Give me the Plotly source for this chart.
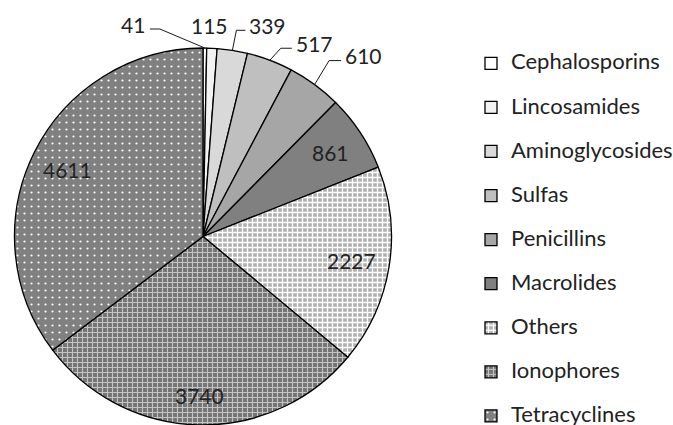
import math
import plotly.graph_objects as go

categories = ["Cephalosporins", "Lincosamides", "Aminoglycosides", "Sulfas",
              "Penicillins", "Macrolides", "Others", "Ionophores", "Tetracyclines"]
values = [41, 115, 339, 517, 610, 861, 2227, 3740, 4611]

# ---------- styles ----------
W, H = 673, 425
base_colors = ["#ffffff", "#f2f2f2", "#d9d9d9", "#bfbfbf", "#a6a6a6",
               "#808080", "#b0b0b0", "#747474", "#808080"]
pattern_shapes = ["", "", "", "", "", "", "+", "+", "."]
pattern_fg = ["#ffffff"] * 6 + ["#ffffff", "#c4c4c4", "#ffffff"]
pattern_size = [6, 6, 6, 6, 6, 6, 5, 5, 7]
pattern_solid = [0.3] * 6 + [0.45, 0.4, 0.08]

# label placement styles (one per slice)
#   inside labels: fraction of radius along the slice's mid angle
#   outside labels: elbow offset (px) from the slice edge, stub length (px), draw leader?
label_mode = ["out", "out", "out", "out", "out", "in", "in", "in", "in"]
inside_frac = [0, 0, 0, 0, 0, 0.81, 0.80, 0.845, 0.80]
elbow_dx = [-45, -2.5, 4, 11, 14.5, 0, 0, 0, 0]
elbow_dy = [-19, -20, -20, -12, -24, 0, 0, 0, 0]
stub_len = [-10, 0, 9, 11, 12, 0, 0, 0, 0]
draw_leader = [True, False, True, True, True, False, False, False, False]

FONT = "Lato"
LEG_TXT = 22
NUM_TXT = 21
TXT_COLOR = "#222222"

dom_x = [13 / W, 393 / W]
dom_y = [0, 377 / H]

legend_labels = [f" <br><span style='font-size:{LEG_TXT}px'>{c}</span>" for c in categories]

fig = go.Figure(go.Pie(
    labels=legend_labels,
    values=values,
    textinfo="none",
    hoverinfo="skip",
    sort=False,
    direction="clockwise",
    rotation=0,
    marker=dict(
        colors=base_colors,
        line=dict(color="#000000", width=1.3),
        pattern=dict(shape=pattern_shapes, fgcolor=pattern_fg, bgcolor=base_colors,
                     fillmode="replace",
                     size=pattern_size, solidity=pattern_solid),
    ),
    domain=dict(x=dom_x, y=dom_y),
))

# ---------- data labels derived from the values ----------
box_w = (dom_x[1] - dom_x[0]) * W
box_h = (dom_y[1] - dom_y[0]) * H
R = min(box_w, box_h) / 2
cx = (dom_x[0] + dom_x[1]) / 2 * W
cy = H - (dom_y[0] + dom_y[1]) / 2 * H


def to_paper(x, y):
    return x / W, 1 - y / H


total = sum(values)
cum = 0
shapes = []
annotations = []
for i, v in enumerate(values):
    mid = math.radians((cum + v / 2) / total * 360)
    cum += v
    sx, sy = math.sin(mid), -math.cos(mid)
    if label_mode[i] == "in":
        tx, ty = cx + inside_frac[i] * R * sx, cy + inside_frac[i] * R * sy
        px, py = to_paper(tx, ty)
        annotations.append(dict(x=px, y=py, xref="paper", yref="paper", text=str(v),
                                showarrow=False, xanchor="center", yanchor="middle",
                                font=dict(family=FONT, size=NUM_TXT, color=TXT_COLOR)))
    else:
        ex, ey = cx + R * sx, cy + R * sy
        bx, by = ex + elbow_dx[i], ey + elbow_dy[i]
        tx = bx + stub_len[i]
        if draw_leader[i]:
            p = [to_paper(ex, ey), to_paper(bx, by), to_paper(tx, by)]
            path = "M {} {} L {} {} L {} {}".format(p[0][0], p[0][1], p[1][0], p[1][1],
                                                 p[2][0], p[2][1])
            shapes.append(dict(type="path", xref="paper", yref="paper", path=path,
                               line=dict(color="#1a1a1a", width=1)))
            if stub_len[i] < 0:
                anchor, ax = "right", tx - 3
            else:
                anchor, ax = "left", tx + 2
            ay = by - 5
        else:
            anchor, ax, ay = "center", bx, by - 3
        px, py = to_paper(ax, ay)
        annotations.append(dict(x=px, y=py, xref="paper", yref="paper", text=str(v),
                                showarrow=False, xanchor=anchor, yanchor="middle",
                                font=dict(family=FONT, size=NUM_TXT, color=TXT_COLOR)))

fig.update_layout(
    width=W, height=H,
    margin=dict(l=0, r=0, t=0, b=0, autoexpand=False),
    paper_bgcolor="white",
    showlegend=True,
    shapes=shapes,
    annotations=annotations,
    legend=dict(
        x=471 / W, xanchor="left",
        y=1 - 26 / H, yanchor="top",
        valign="bottom",
        maxheight=900,
        font=dict(family=FONT, size=15.8, color=TXT_COLOR),
        bgcolor="rgba(0,0,0,0)",
    ),
    font=dict(family=FONT),
)

fig.write_html("out.html")
